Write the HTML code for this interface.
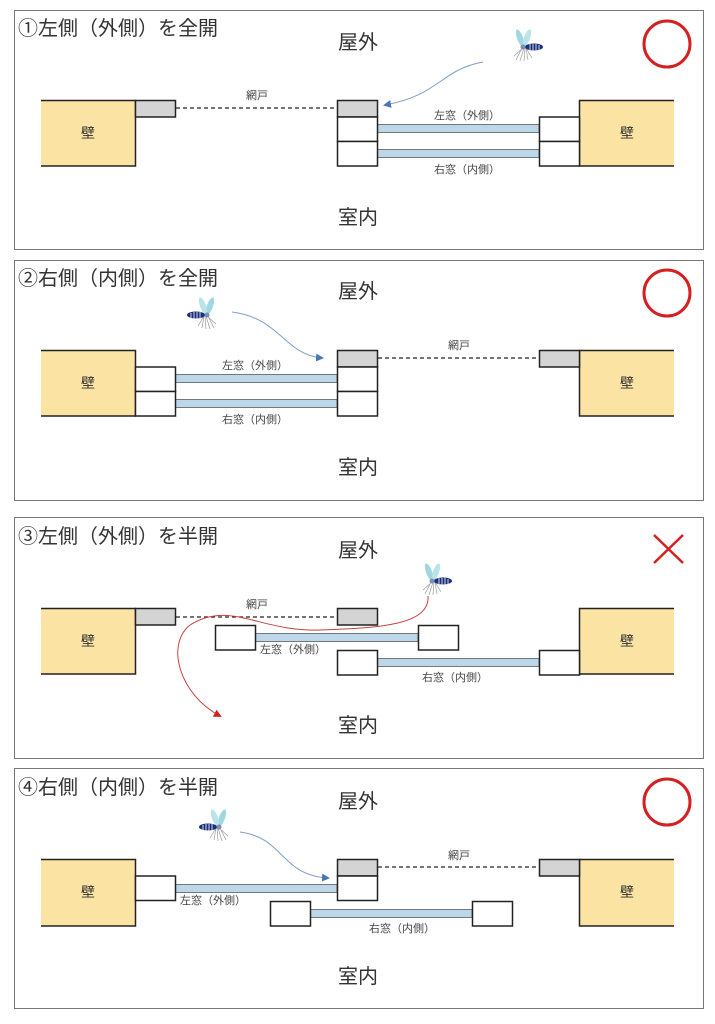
<!DOCTYPE html>
<html><head><meta charset="utf-8"><style>
html,body{margin:0;padding:0;background:#fff;}
svg{display:block;font-family:"Liberation Sans","Noto Sans CJK JP",sans-serif;}
.t{font-size:20px;fill:#333;}
.big{font-size:20px;fill:#333;text-anchor:middle;}
.sm{font-size:11px;fill:#444;text-anchor:middle;}
.wl{font-size:14px;fill:#333;text-anchor:middle;}
</style></head><body>
<svg width="715" height="1024" viewBox="0 0 715 1024">
<defs>
<g id="mq">
 <ellipse cx="-4" cy="-10" rx="3" ry="9" fill="#9fd8e0" transform="rotate(-20 -4 -10)"/>
 <ellipse cx="3" cy="-10" rx="3" ry="9" fill="#b8e4ea" transform="rotate(20 3 -10)"/>
 <g stroke="#999" stroke-width="0.7" fill="none">
  <path d="M-2 0 L-8 12 M0 0 L-4 13 M1 0 L0 13 M2 0 L4 12 M-1 0 L-10 8 M2 0 L8 10"/>
 </g>
 <ellipse cx="10" cy="-1" rx="9" ry="3.5" fill="#1a2f7a"/>
 <path d="M6 -4 V2 M9 -4 V3 M12 -4 V3 M15 -3 V2" stroke="#fff" stroke-width="0.8"/>
 <circle cx="-1" cy="-1" r="2.5" fill="#7a8fb0"/>
</g>
<marker id="ab" markerWidth="8" markerHeight="8" refX="6" refY="4" orient="auto"><path d="M0 0 L8 4 L0 8 Z" fill="#4a76b8"/></marker>
<marker id="ar" markerWidth="8" markerHeight="8" refX="6" refY="4" orient="auto"><path d="M0 0 L8 4 L0 8 Z" fill="#d42020"/></marker>
</defs>

<g fill="none" stroke="#777" stroke-width="1">
<rect x="14.5" y="10.5" width="689" height="239"/>
<rect x="14.5" y="260.5" width="689" height="240"/>
<rect x="14.5" y="517.5" width="689" height="241"/>
<rect x="14.5" y="768.5" width="689" height="240"/>
</g>

<!-- PANEL 1 -->
<g>
<text class="t" x="18" y="35">①左側（外側）を全開</text>
<text class="big" x="358" y="49">屋外</text>
<text class="big" x="358" y="224">室内</text>
<circle cx="667" cy="44" r="23" fill="none" stroke="#d42020" stroke-width="3"/>
<rect x="41" y="100" width="94" height="66" fill="#fae3a3"/>
<path d="M41 100.5H135.5V166H41 M41 166H135" stroke="#222" stroke-width="1.5" fill="none"/>
<text class="wl" x="88" y="138">壁</text>
<rect x="579" y="100" width="95" height="66" fill="#fae3a3"/>
<path d="M674 100.5H579.5V166H674" stroke="#222" stroke-width="1.5" fill="none"/>
<text class="wl" x="627" y="138">壁</text>
<rect x="135.5" y="100.5" width="40" height="16.5" fill="#d4d4d4" stroke="#222" stroke-width="1.5"/>
<rect x="337.5" y="100.5" width="40" height="16.5" fill="#d4d4d4" stroke="#222" stroke-width="1.5"/>
<line x1="176" y1="108" x2="337" y2="108" stroke="#222" stroke-width="1.3" stroke-dasharray="4,3"/>
<text class="sm" x="257" y="99">網戸</text>
<rect x="377" y="124.5" width="162" height="8" fill="#bcd6ea" stroke="#777" stroke-width="1"/>
<rect x="377" y="149.5" width="162" height="8" fill="#bcd6ea" stroke="#777" stroke-width="1"/>
<rect x="337.5" y="117" width="40" height="24.5" fill="#fff" stroke="#222" stroke-width="1.5"/>
<rect x="337.5" y="141.5" width="40" height="24.5" fill="#fff" stroke="#222" stroke-width="1.5"/>
<rect x="539.5" y="117" width="40" height="24.5" fill="#fff" stroke="#222" stroke-width="1.5"/>
<rect x="539.5" y="141.5" width="40" height="24.5" fill="#fff" stroke="#222" stroke-width="1.5"/>
<text class="sm" x="467" y="119">左窓（外側）</text>
<text class="sm" x="467" y="173">右窓（内側）</text>
<use href="#mq" transform="translate(524,48)"/>
<path d="M483 62 C440 70 440 95 385 105" fill="none" stroke="#7f9fc8" stroke-width="1" marker-end="url(#ab)"/>
</g>

<!-- PANEL 2 -->
<g>
<text class="t" x="18" y="285">②右側（内側）を全開</text>
<text class="big" x="358" y="298">屋外</text>
<text class="big" x="358" y="474">室内</text>
<circle cx="667" cy="293" r="23" fill="none" stroke="#d42020" stroke-width="3"/>
<rect x="41" y="350" width="94" height="66" fill="#fae3a3"/>
<path d="M41 350.5H135.5V416H41" stroke="#222" stroke-width="1.5" fill="none"/>
<text class="wl" x="88" y="388">壁</text>
<rect x="579" y="350" width="95" height="66" fill="#fae3a3"/>
<path d="M674 350.5H579.5V416H674" stroke="#222" stroke-width="1.5" fill="none"/>
<text class="wl" x="627" y="388">壁</text>
<rect x="337.5" y="350.5" width="40" height="16.5" fill="#d4d4d4" stroke="#222" stroke-width="1.5"/>
<rect x="539.5" y="350.5" width="40" height="16.5" fill="#d4d4d4" stroke="#222" stroke-width="1.5"/>
<line x1="378" y1="358" x2="539" y2="358" stroke="#222" stroke-width="1.3" stroke-dasharray="4,3"/>
<text class="sm" x="459" y="349">網戸</text>
<rect x="175" y="374.5" width="162" height="8" fill="#bcd6ea" stroke="#777" stroke-width="1"/>
<rect x="175" y="399.5" width="162" height="8" fill="#bcd6ea" stroke="#777" stroke-width="1"/>
<rect x="135.5" y="367" width="40" height="24.5" fill="#fff" stroke="#222" stroke-width="1.5"/>
<rect x="135.5" y="391.5" width="40" height="24.5" fill="#fff" stroke="#222" stroke-width="1.5"/>
<rect x="337.5" y="367" width="40" height="24.5" fill="#fff" stroke="#222" stroke-width="1.5"/>
<rect x="337.5" y="391.5" width="40" height="24.5" fill="#fff" stroke="#222" stroke-width="1.5"/>
<text class="sm" x="255" y="369">左窓（外側）</text>
<text class="sm" x="255" y="423">右窓（内側）</text>
<use href="#mq" transform="translate(206,316) scale(-1,1)"/>
<path d="M232 312 C280 318 285 355 322 358" fill="none" stroke="#7f9fc8" stroke-width="1" marker-end="url(#ab)"/>
</g>

<!-- PANEL 3 -->
<g>
<text class="t" x="18" y="543">③左側（外側）を半開</text>
<text class="big" x="358" y="557">屋外</text>
<text class="big" x="358" y="732">室内</text>
<path d="M654 535L683 563M683 535L654 563" stroke="#d42020" stroke-width="2.5"/>
<rect x="41" y="608" width="94" height="66" fill="#fae3a3"/>
<path d="M41 608.5H135.5V674H41" stroke="#222" stroke-width="1.5" fill="none"/>
<text class="wl" x="88" y="646">壁</text>
<rect x="579" y="608" width="95" height="66" fill="#fae3a3"/>
<path d="M674 608.5H579.5V674H674" stroke="#222" stroke-width="1.5" fill="none"/>
<text class="wl" x="627" y="646">壁</text>
<rect x="135.5" y="608.5" width="40" height="16.5" fill="#d4d4d4" stroke="#222" stroke-width="1.5"/>
<rect x="337.5" y="608.5" width="40" height="16.5" fill="#d4d4d4" stroke="#222" stroke-width="1.5"/>
<line x1="176" y1="617" x2="337" y2="617" stroke="#222" stroke-width="1.3" stroke-dasharray="4,3"/>
<text class="sm" x="257" y="608">網戸</text>
<rect x="255" y="633.5" width="163" height="8" fill="#bcd6ea" stroke="#777" stroke-width="1"/>
<rect x="215.5" y="625.5" width="40" height="24.5" fill="#fff" stroke="#222" stroke-width="1.5"/>
<rect x="418.5" y="625.5" width="40" height="24.5" fill="#fff" stroke="#222" stroke-width="1.5"/>
<rect x="377" y="658.5" width="162" height="8" fill="#bcd6ea" stroke="#777" stroke-width="1"/>
<rect x="337.5" y="650.5" width="40" height="24.5" fill="#fff" stroke="#222" stroke-width="1.5"/>
<rect x="539.5" y="650.5" width="40" height="24.5" fill="#fff" stroke="#222" stroke-width="1.5"/>
<text class="sm" x="293" y="653">左窓（外側）</text>
<text class="sm" x="455" y="681">右窓（内側）</text>
<use href="#mq" transform="translate(433,582)"/>
<path d="M428 596 C430 625 380 628 320 630 C260 632 230 600 190 625 C165 645 180 695 220 716" fill="none" stroke="#c84040" stroke-width="1" marker-end="url(#ar)"/>
</g>

<!-- PANEL 4 -->
<g>
<text class="t" x="18" y="794">④右側（内側）を半開</text>
<text class="big" x="358" y="808">屋外</text>
<text class="big" x="358" y="983">室内</text>
<circle cx="667" cy="802" r="23" fill="none" stroke="#d42020" stroke-width="3"/>
<rect x="41" y="859" width="94" height="67" fill="#fae3a3"/>
<path d="M41 859.5H135.5V926H41" stroke="#222" stroke-width="1.5" fill="none"/>
<text class="wl" x="88" y="897">壁</text>
<rect x="579" y="859" width="95" height="67" fill="#fae3a3"/>
<path d="M674 859.5H579.5V926H674" stroke="#222" stroke-width="1.5" fill="none"/>
<text class="wl" x="627" y="897">壁</text>
<rect x="337.5" y="859.5" width="40" height="16.5" fill="#d4d4d4" stroke="#222" stroke-width="1.5"/>
<rect x="539.5" y="859.5" width="40" height="16.5" fill="#d4d4d4" stroke="#222" stroke-width="1.5"/>
<line x1="378" y1="867" x2="539" y2="867" stroke="#222" stroke-width="1.3" stroke-dasharray="4,3"/>
<text class="sm" x="459" y="859">網戸</text>
<rect x="175" y="884.5" width="162" height="8" fill="#bcd6ea" stroke="#777" stroke-width="1"/>
<rect x="135.5" y="876" width="40" height="24.5" fill="#fff" stroke="#222" stroke-width="1.5"/>
<rect x="337.5" y="876" width="40" height="24.5" fill="#fff" stroke="#222" stroke-width="1.5"/>
<rect x="310" y="909.5" width="162" height="8" fill="#bcd6ea" stroke="#777" stroke-width="1"/>
<rect x="270.5" y="901.5" width="40" height="24.5" fill="#fff" stroke="#222" stroke-width="1.5"/>
<rect x="472.5" y="901.5" width="40" height="24.5" fill="#fff" stroke="#222" stroke-width="1.5"/>
<text class="sm" x="213" y="904">左窓（外側）</text>
<text class="sm" x="402" y="932">右窓（内側）</text>
<use href="#mq" transform="translate(218,828) scale(-1,1)"/>
<path d="M240 832 C285 838 280 875 328 878" fill="none" stroke="#7f9fc8" stroke-width="1" marker-end="url(#ab)"/>
</g>
</svg>
</body></html>
